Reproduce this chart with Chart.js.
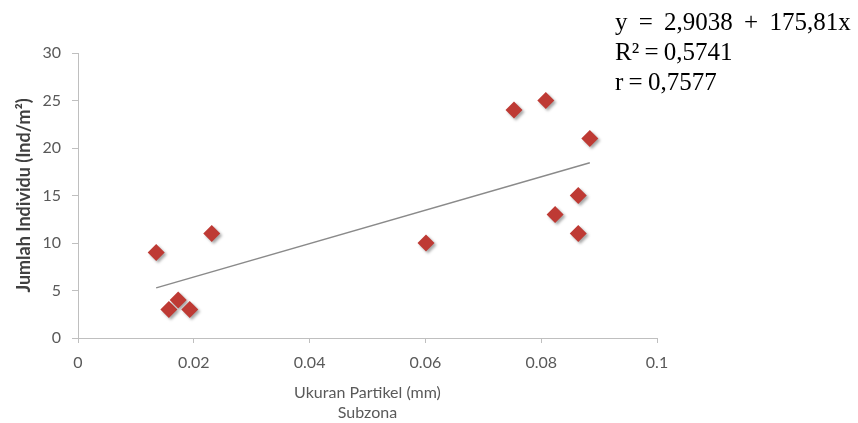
<!DOCTYPE html>
<html><head><meta charset="utf-8">
<script src="https://cdn.jsdelivr.net/npm/chart.js@4"></script>
<style>
html,body{margin:0;padding:0;background:#fff;}
#wrap{position:relative;width:858px;height:423px;}
#eq{position:absolute;left:615px;top:7px;font-family:"Liberation Serif","Times New Roman",serif;font-size:25px;line-height:30px;color:#000;white-space:pre;word-spacing:-1px;}
#eq .l1{word-spacing:5px;}
</style></head><body>
<div id="wrap"><canvas id="c" width="858" height="423"></canvas>
<div id="eq"><span class="l1">y = 2,9038 + 175,81x</span><br>R² = 0,5741<br>r = 0,7577</div></div>
<script>
const particleSize = [0.0135,0.0231,0.0157,0.0173,0.0193,0.0601,0.0753,0.0808,0.0884,0.0864,0.0824,0.0864];
const individuals  = [9,11,3,4,3,10,24,25,21,15,13,11];
const intercept = 2.9038, slope = 175.81;
const trendX = [0.0135, 0.0884];
const xTicks = [0,0.02,0.04,0.06,0.08,0.1];
const yTicks = [0,5,10,15,20,25,30];

const pts = particleSize.map((x,i)=>({x, y: individuals[i]}));
const trend = trendX.map(x=>({x, y: intercept + slope*x}));
const grey = '#595959';
const shadow = {
  id:'shadow',
  beforeDatasetDraw(chart,args){ if(args.index===1){const c=chart.ctx;c.save();c.shadowColor='rgba(0,0,0,0.35)';c.shadowOffsetX=2;c.shadowOffsetY=2;c.shadowBlur=3;} },
  afterDatasetDraw(chart,args){ if(args.index===1){chart.ctx.restore();} }
};
new Chart(document.getElementById('c'),{
  type:'scatter',
  data:{datasets:[
    {type:'line',data:trend,borderColor:'#8a8a8a',borderWidth:1.5,pointRadius:0,fill:false},
    {data:pts,pointStyle:'rectRot',pointRadius:8.5,pointHoverRadius:8.5,backgroundColor:'#BE3A34',borderColor:'#BE3A34',borderWidth:0}
  ]},
  options:{
    responsive:false,animation:false,
    layout:{padding:{top:53,right:201,left:0,bottom:0}},
    plugins:{legend:{display:false},tooltip:{enabled:false}},
    scales:{
      x:{type:'linear',min:0,max:0.1,
        afterBuildTicks:s=>{s.ticks=xTicks.map(v=>({value:v}));},
        afterFit:s=>{s.height=85;},
        ticks:{color:grey,font:{family:'Lato',size:16},padding:10,callback:v=>String(v)},
        grid:{drawOnChartArea:false,tickLength:5,color:'#bfbfbf'},
        border:{color:'#bfbfbf',width:1},
        title:{display:true,text:['Ukuran Partikel (mm)','Subzona'],color:grey,font:{family:'Lato',size:16,lineHeight:1.25},padding:{top:4,bottom:0}}
      },
      y:{min:0,max:30,
        afterBuildTicks:s=>{s.ticks=yTicks.map(v=>({value:v}));},
        afterFit:s=>{s.width=78;},
        ticks:{color:grey,font:{family:'Lato',size:16},padding:11},
        grid:{drawOnChartArea:false,tickLength:6,color:'#bfbfbf'},
        border:{color:'#bfbfbf',width:1},
        title:{display:true,text:'Jumlah Individu (Ind/m²)',color:'#404040',font:{family:'Lato',size:18,weight:'bold'},padding:{top:13,bottom:0}}
      }
    }
  },
  plugins:[shadow]
});
</script></body></html>
